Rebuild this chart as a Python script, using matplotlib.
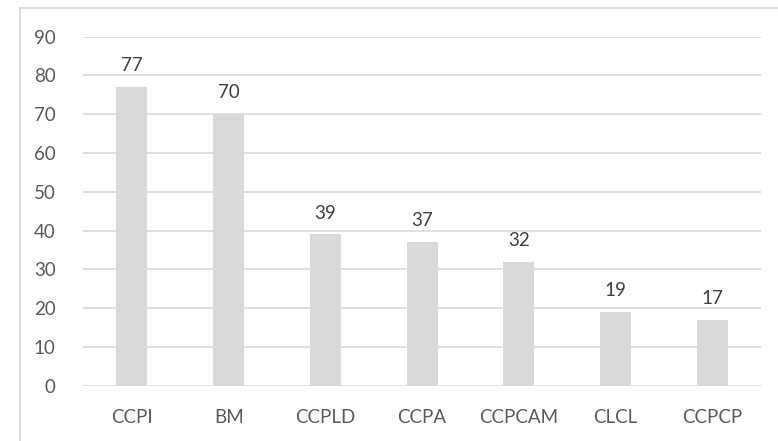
import matplotlib
matplotlib.use('Agg')
from matplotlib import pyplot as plt
from matplotlib.lines import Line2D

categorias = ['CCPI', 'BM', 'CCPLD', 'CCPA', 'CCPCAM', 'CLCL', 'CCPCP']
valores = [77, 70, 39, 37, 32, 19, 17]
marcas_y = [0, 10, 20, 30, 40, 50, 60, 70, 80, 90]

plt.rcParams['font.family'] = ['Lato', 'DejaVu Sans']

fig = plt.figure(figsize=(7.78, 4.41), dpi=100)
ax = fig.add_axes([0.1073, 0.1254, 0.978 - 0.1073, 0.9168 - 0.1254])

x = range(len(categorias))
barras = ax.bar(x, valores, width=0.32, color='#D9D9D9', zorder=2)
for xi, v in zip(x, valores):
    ax.text(xi, v + 3.3, str(v), ha='center', va='bottom', fontsize=13.5, color='#404040')

ax.set_xlim(-0.5, len(categorias) - 0.5)
ax.set_ylim(0, 90)
ax.set_yticks(marcas_y)
ax.set_xticks(list(x))
ax.set_xticklabels(categorias)
ax.tick_params(axis='both', length=0, labelsize=13.5, labelcolor='#595959')
ax.tick_params(axis='y', pad=20)
ax.tick_params(axis='x', pad=17)
ax.grid(axis='y', color='#D9D9D9', linewidth=1.2, zorder=0)
for lado in ax.spines.values():
    lado.set_visible(False)

# marco del grafico
fig.add_artist(Line2D([20 / 778, 20 / 778], [0, 1 - 7.5 / 441], transform=fig.transFigure,
                      color='#D9D9D9', linewidth=1.2))
fig.add_artist(Line2D([20 / 778, 1], [1 - 7.5 / 441, 1 - 7.5 / 441], transform=fig.transFigure,
                      color='#D9D9D9', linewidth=1.2))

fig.savefig('out.png', dpi=100)
